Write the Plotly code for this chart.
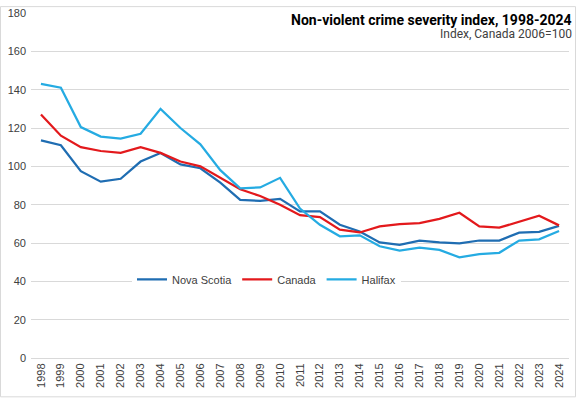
import plotly.graph_objects as go

years = [str(y) for y in range(1998, 2025)]

nova_scotia = [113.5, 111, 97.5, 92, 93.5, 102.5, 107, 101, 99, 91.5, 82.5, 82, 83, 76.5, 76.5,
               69.5, 66, 60.3, 59, 61.2, 60.3, 59.8, 61.3, 61.3, 65.4, 65.8, 68.9]
canada = [127, 116, 110, 108, 107, 110, 107, 102.5, 100, 94, 88, 84.5, 80, 74.5, 73.5,
          67, 65.5, 68.7, 69.9, 70.4, 72.6, 75.8, 68.7, 68, 71.3, 74.2, 69.2]
halifax = [143, 141, 120.5, 115.5, 114.5, 117, 130, 120, 111.5, 98, 88.5, 89, 94, 78, 69.5,
           63.5, 64, 58.3, 56, 57.6, 56.4, 52.5, 54.2, 54.9, 61.3, 61.9, 66.3]

series = [("Nova Scotia", nova_scotia, "#1F6DB2"),
          ("Canada", canada, "#E3191C"),
          ("Halifax", halifax, "#25ABE2")]

fig = go.Figure()
for name, vals, col in series:
    fig.add_trace(go.Scatter(x=years, y=vals, name=name, mode="lines",
                             line=dict(color=col, width=2.25)))

W, H = 576, 398
L, R, T, B = 31, 7, 7, 40
pw, ph = W - L - R, H - T - B

def px(x):
    return (x - L) / pw

def py(y):
    return (H - B - y) / ph

fig.update_layout(
    width=W, height=H,
    margin=dict(l=L, r=R, t=T, b=B),
    paper_bgcolor="white", plot_bgcolor="white",
    font=dict(family="Liberation Sans, Arial, sans-serif", size=11, color="#595959"),
    showlegend=True,
    legend=dict(orientation="h", x=px(132), xanchor="left", y=py(278), yanchor="middle",
                bgcolor="white", font=dict(size=11, color="#404040"),
                itemwidth=30, tracegroupgap=0, itemclick=False),
    xaxis=dict(type="category", tickangle=-90, showgrid=False, showline=True,
               linecolor="#D9D9D9", ticks="", tickfont=dict(size=11, color="#404040"),
               range=[-0.5, 26.5], fixedrange=True),
    yaxis=dict(range=[0, 180], dtick=20, showgrid=True, gridcolor="#D9D9D9", gridwidth=1,
               zeroline=False, showline=False, ticks="", ticklabelstandoff=4,
               tickfont=dict(size=11, color="#404040"), fixedrange=True),
    shapes=[dict(type="rect", xref="paper", yref="paper",
                 x0=px(0.5), x1=px(W - 0.5), y0=py(H - 0.5), y1=py(0.5),
                 line=dict(color="#D9D9D9", width=1), fillcolor="rgba(0,0,0,0)")],
    annotations=[
        dict(text="<b>Non-violent crime severity index, 1998-2024</b>", xref="paper", yref="paper",
             x=px(574), y=py(4), xanchor="right", yanchor="top", showarrow=False,
             font=dict(family="Liberation Sans Narrow, Roboto, sans-serif", size=14, color="black")),
        dict(text="Index, Canada 2006=100", xref="paper", yref="paper",
             x=px(574), y=py(19), xanchor="right", yanchor="top", showarrow=False,
             font=dict(family="Roboto, Liberation Sans, sans-serif", size=12, color="#404040")),
    ],
)

fig.write_html("out.html", config={"displayModeBar": False},
               post_script="document.body.style.margin='0';document.body.style.padding='0';")
